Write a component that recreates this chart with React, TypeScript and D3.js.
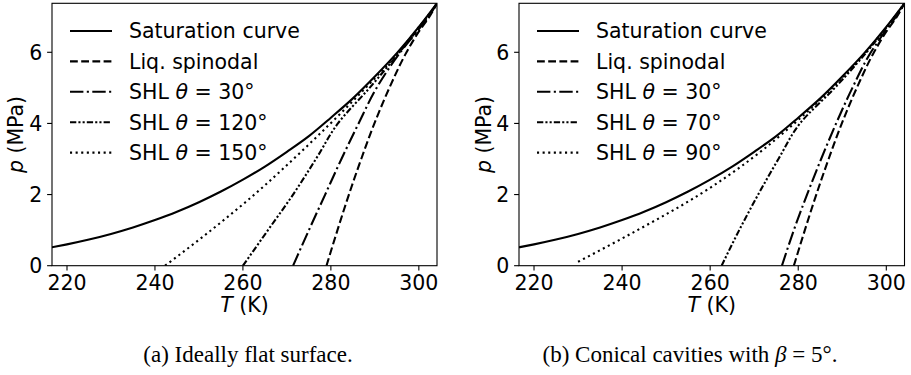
import React from "react";
import * as d3 from "d3";

// ---- data (CO2, T in K, p in MPa) ----
const satT = [216.59, 220, 225, 230, 235, 240, 245, 250, 255, 260, 265, 270, 275, 280, 285, 290, 295, 300, 302, 304.13];
const satP = [0.518, 0.6, 0.735, 0.893, 1.075, 1.283, 1.516, 1.785, 2.085, 2.419, 2.788, 3.203, 3.643, 4.161, 4.704, 5.318, 5.975, 6.713, 7.03, 7.377];

const pGrid = [0, 1, 2, 3, 4, 5, 6, 6.6, 7.0, 7.377];
const spinodalT = [279.0, 281.5, 284.1, 286.9, 289.9, 293.3, 297.2, 300.1, 302.4, 304.13];

const leftShl30T = [271.4, 275.0, 278.7, 282.4, 286.3, 290.4, 295.8, 299.7, 302.2, 304.13];
const leftShl120T = [260.0, 265.7, 271.4, 276.6, 281.6, 288.8, 295.6, 299.5, 302.0, 304.13];
const leftShl150T = [242.3, 252.8, 262.6, 271.5, 279.9, 287.9, 295.4, 299.3, 301.9, 304.13];

const rightShl30T = [276.3, 279.0, 282.0, 285.2, 288.6, 292.3, 296.5, 299.8, 302.2, 304.13];
const rightShl70T = [262.6, 266.6, 270.9, 275.5, 280.4, 288.3, 295.5, 299.4, 301.95, 304.13];
const rightShl90P = [0.11, 1, 2, 3, 4, 5, 6, 6.6, 7.0, 7.377];
const rightShl90T = [230.0, 243.5, 257.6, 269.3, 279.1, 287.75, 295.35, 299.35, 301.9, 304.13];

const xTicks = [220, 240, 260, 280, 300];
const yTicks = [0, 2, 4, 6];
const leftThetas = ["30", "120", "150"];
const rightThetas = ["30", "70", "90"];
const captions = ["(a) Ideally flat surface.", "(b) Conical cavities with "];

// ---- styles ----
const LW = 2.1;
const dashes: Record<string, string | undefined> = {
  solid: undefined,
  dashed: "7.8 3.4",
  dashdot: "13.4 3.4 2.1 3.4",
  dashdotdot: "6.3 2.1 2.1 2.1 2.1 2.1",
  dotted: "2.1 3.5",
};
const FONT = "'DejaVu Sans', sans-serif";
const FS = 20.5;

type Series = { T: number[]; p: number[]; style: string; label: React.ReactNode; curve: any };

function Panel({ x0, x1, series, id, ylabX }: { x0: number; x1: number; series: Series[]; id: string; ylabX: number }) {
  const y0 = 3.3;
  const y1 = 265.7;
  const x = d3.scaleLinear().domain([216.59, 304.13]).range([x0, x1]);
  const y = d3.scaleLinear().domain([0, 7.3773]).range([y1, y0]);
  const tick = 4.9;
  return (
    <g>
      <defs>
        <clipPath id={id}>
          <rect x={x0} y={y0} width={x1 - x0} height={y1 - y0} />
        </clipPath>
      </defs>
      <g clipPath={`url(#${id})`}>
        {series.map((s, i) => {
          const pts = s.T.map((t, k) => [t, s.p[k]] as [number, number]);
          const line = d3
            .line<[number, number]>()
            .x((d) => x(d[0]))
            .y((d) => y(d[1]))
            .curve(s.curve);
          return (
            <path
              key={i}
              d={line(pts) || ""}
              fill="none"
              stroke="#000"
              strokeWidth={LW}
              strokeDasharray={dashes[s.style]}
              strokeLinecap={s.style === "solid" ? "square" : "butt"}
            />
          );
        })}
      </g>
      <rect x={x0} y={y0} width={x1 - x0} height={y1 - y0} fill="none" stroke="#000" strokeWidth={1.1} />
      {xTicks.map((t) => (
        <g key={"x" + t}>
          <line x1={x(t)} x2={x(t)} y1={y1} y2={y1 + tick} stroke="#000" strokeWidth={1.1} />
          <text x={x(t)} y={y1 + tick + 4.9 + FS * 0.73} textAnchor="middle" fontFamily={FONT} fontSize={FS}>
            {t}
          </text>
        </g>
      ))}
      {yTicks.map((t) => (
        <g key={"y" + t}>
          <line x1={x0 - tick} x2={x0} y1={y(t)} y2={y(t)} stroke="#000" strokeWidth={1.1} />
          <text x={x0 - tick - 4.9} y={y(t) + FS * 0.36} textAnchor="end" fontFamily={FONT} fontSize={FS}>
            {t}
          </text>
        </g>
      ))}
      <text x={(x0 + x1) / 2} y={312} textAnchor="middle" fontFamily={FONT} fontSize={FS}>
        <tspan fontStyle="italic">T</tspan> (K)
      </text>
      <text
        transform={`translate(${ylabX},${(y0 + y1) / 2}) rotate(-90)`}
        textAnchor="middle"
        fontFamily={FONT}
        fontSize={FS}
      >
        <tspan fontStyle="italic">p</tspan> (MPa)
      </text>
      {series.map((s, i) => {
        const ly = 31 + i * 30.4;
        return (
          <g key={"l" + i}>
            <line
              x1={x0 + 18}
              x2={x0 + 60}
              y1={ly}
              y2={ly}
              stroke="#000"
              strokeWidth={LW}
              strokeDasharray={dashes[s.style]}
            />
            <text x={x0 + 77} y={ly + FS * 0.36} fontFamily={FONT} fontSize={FS}>
              {s.label}
            </text>
          </g>
        );
      })}
    </g>
  );
}

function shlLabel(theta: string) {
  return (
    <>
      SHL <tspan fontStyle="italic">θ</tspan> = {theta}°
    </>
  );
}

export default function App() {
  const sat: Series = { T: satT, p: satP, style: "solid", label: "Saturation curve", curve: d3.curveMonotoneX };
  const spin: Series = { T: spinodalT, p: pGrid, style: "dashed", label: "Liq. spinodal", curve: d3.curveMonotoneY };
  const left: Series[] = [
    sat,
    spin,
    { T: leftShl30T, p: pGrid, style: "dashdot", label: shlLabel(leftThetas[0]), curve: d3.curveMonotoneY },
    { T: leftShl120T, p: pGrid, style: "dashdotdot", label: shlLabel(leftThetas[1]), curve: d3.curveMonotoneY },
    { T: leftShl150T, p: pGrid, style: "dotted", label: shlLabel(leftThetas[2]), curve: d3.curveMonotoneY },
  ];
  const right: Series[] = [
    sat,
    spin,
    { T: rightShl30T, p: pGrid, style: "dashdot", label: shlLabel(rightThetas[0]), curve: d3.curveMonotoneY },
    { T: rightShl70T, p: pGrid, style: "dashdotdot", label: shlLabel(rightThetas[1]), curve: d3.curveMonotoneY },
    { T: rightShl90T, p: rightShl90P, style: "dotted", label: shlLabel(rightThetas[2]), curve: d3.curveMonotoneY },
  ];
  return (
    <svg
      width={911}
      height={375}
      style={{ position: "absolute", left: 0, top: 0, display: "block", background: "#fff" }}
    >
      <rect width={911} height={375} fill="#fff" />
      <Panel x0={52} x1={437} series={left} id="clipA" ylabX={23} />
      <Panel x0={519} x1={904.5} series={right} id="clipB" ylabX={491} />
      <text x={248} y={362} textAnchor="middle" fontFamily="'Liberation Serif', serif" fontSize={23}>
        {captions[0]}
      </text>
      <text x={690} y={362} textAnchor="middle" fontFamily="'Liberation Serif', serif" fontSize={23}>
        {captions[1]}
        <tspan fontStyle="italic">β</tspan> = 5°.
      </text>
    </svg>
  );
}
